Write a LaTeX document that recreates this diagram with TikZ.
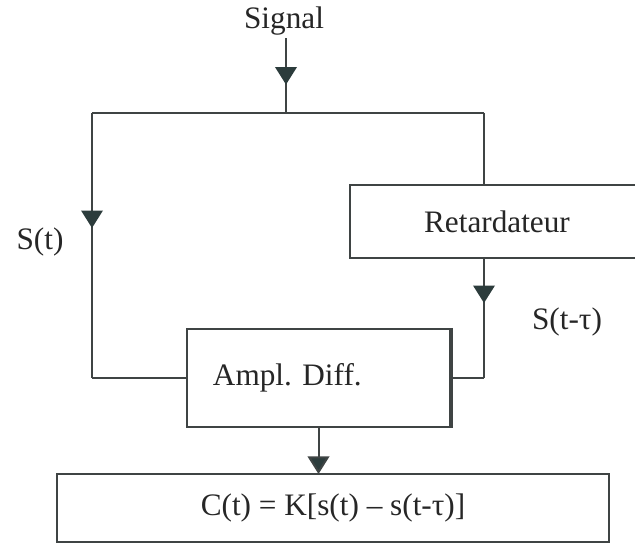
\documentclass[tikz,border=0pt]{standalone}
\usepackage{fontspec}
\setmainfont{Liberation Serif}
\usepackage{tikz}
\usetikzlibrary{arrows.meta, positioning, calc, decorations.markings}
\definecolor{wiregray}{HTML}{3F4444}
\definecolor{tipslate}{HTML}{2C3C3C}
\definecolor{inkgray}{HTML}{262626}
\tikzset{
  % Blocks
  block/.style={
    rectangle, draw=wiregray, line width=0.8pt, fill=white,
    text=inkgray, align=center, inner sep=2pt
  },
  % Wires and arrow tips
  wire/.style={draw=wiregray, line width=0.8pt},
  midarrow/.style={
    postaction={decorate},
    decoration={markings, mark=at position #1 with
      {\arrow[fill=tipslate, draw=tipslate]{Triangle[length=7pt, width=8.6pt]}}}
  },
  endarrow/.style={-{Triangle[length=7pt, width=8.6pt, fill=tipslate]}, shorten >=-0.4pt},
  % Labels
  siglabel/.style={text=inkgray, inner sep=1pt},
}

\begin{document}
\begin{tikzpicture}[x=0.4pt, y=-0.4pt, every node/.style={font=\fontsize{12.5}{15}\selectfont}]
  \useasboundingbox (0,0) rectangle (635,546);
  \clip (0,0) rectangle (635,546);

  % Blocks
  \node[block, minimum width=117.6pt, minimum height=29.2pt] (retard) at (497,221.5) {Retardateur};
  \node[block, minimum width=105.2pt, minimum height=39.2pt, text width=84.4pt,
        inner xsep=10.4pt, align=left] (ampl) at (318.5,378) {Ampl.\ Diff.};
  \node[block, minimum width=220.8pt, minimum height=27.2pt] (result) at (333,508)
        {C(t) = K[s(t) – s(t-τ)]};
  \draw[draw=wiregray, line width=1.6pt] (ampl.north east) -- (ampl.south east);

  % Labels
  \node[siglabel] (signal) at (284,21) {Signal};
  \node[siglabel] (st) at (40,242) {S(t)};
  \node[siglabel] (stau) at (567,322) {S(t-τ)};

  % Branch points
  \coordinate (split) at (286,113);
  \coordinate (tl) at (92,113);
  \coordinate (tr) at (484,113);
  \coordinate (bl) at (92,378);
  \coordinate (br) at (484,378);

  % Wires
  \draw[wire, midarrow=0.62] (signal.south -| split) -- (split);
  \draw[wire] (tl) -- (tr);
  \draw[wire, midarrow=0.434] (tl) -- (bl);
  \draw[wire] (bl) -- (ampl.west);
  \draw[wire] (tr) -- (tr |- retard.north);
  \draw[wire, midarrow=0.37] (tr |- retard.south) -- (br);
  \draw[wire] (br) -- (ampl.east);
  \draw[wire, endarrow] (ampl.south) -- (ampl.south |- result.north);

\end{tikzpicture}
\end{document}
